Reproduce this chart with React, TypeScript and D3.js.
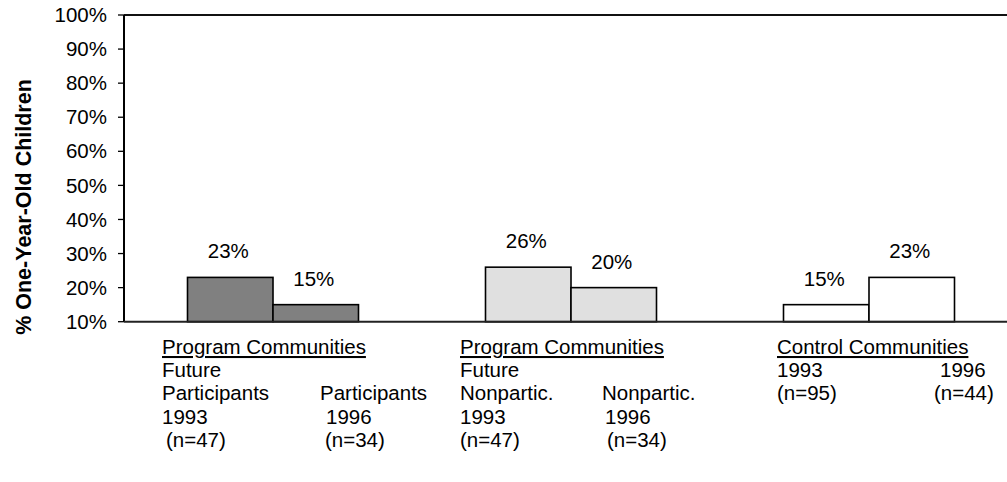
import React from "react";
import * as d3 from "d3";

// Groups along the x axis and the two bars inside each group
const groups = ["participants", "nonparticipants", "control"];
const periods = ["1993", "1996"];

// Percent of one-year-old children, per group: [1993, 1996]
const participantsValues = [23, 15];
const nonparticipantsValues = [26, 20];
const controlValues = [15, 23];
const seriesValues = [participantsValues, nonparticipantsValues, controlValues];

const groupFills = ["#808080", "#e0e0e0", "#ffffff"];

const yTicks = [10, 20, 30, 40, 50, 60, 70, 80, 90, 100];

// Category label text below each group (header, then rows of left/right columns)
const groupHeaders = ["Program Communities", "Program Communities", "Control Communities"];
const participantsRows = [
  ["Future", ""],
  ["Participants", "Participants"],
  ["1993", "1996"],
  ["(n=47)", "(n=34)"],
];
const nonparticipantsRows = [
  ["Future", ""],
  ["Nonpartic.", "Nonpartic."],
  ["1993", "1996"],
  ["(n=47)", "(n=34)"],
];
const controlRows = [
  ["1993", "1996"],
  ["(n=95)", "(n=44)"],
];
const groupRows = [participantsRows, nonparticipantsRows, controlRows];

const yTitle = "% One-Year-Old Children";

const W = 1007;
const H = 482;
const FONT = "'Liberation Sans', Arial, Helvetica, sans-serif";
const FS = 20.5;

// plot frame
const left = 124;
const top = 15;
const bottom = 321.7;
const groupStep = 298;

// horizontal offsets (from the label block's left edge) of the two columns, per row
const colOffsets = [
  [[0, 0], [0, 158], [0, 164], [4, 163]],
  [[0, 0], [0, 142], [0, 145], [0, 147]],
  [[0, 163], [0, 157]],
];
const blockLeft = [-111, -111, -92];

export default function App() {
  const x = d3
    .scaleBand<string>()
    .domain(groups)
    .range([left, left + groupStep * groups.length])
    .padding(0);
  const pairWidth = 171;
  const xSub = d3
    .scaleBand<string>()
    .domain(periods)
    .range([(x.bandwidth() - pairWidth) / 2, (x.bandwidth() + pairWidth) / 2])
    .padding(0);
  const y = d3.scaleLinear().domain([10, 100]).range([bottom, top]);

  const rowY0 = 354;
  const rowStep = 23.2;

  return (
    <svg
      width={W}
      height={H}
      style={{ position: "absolute", left: 0, top: 0, background: "#fff" }}
      fontFamily={FONT}
    >
      {/* y axis title */}
      <text
        transform={`translate(31,${(80 + 334) / 2}) rotate(-90)`}
        textAnchor="middle"
        fontSize={21.5}
        fontWeight="bold"
        fill="#000"
      >
        {yTitle}
      </text>

      {/* ticks and tick labels */}
      {yTicks.map((t) => (
        <g key={t}>
          <line x1={left - 6} x2={left} y1={y(t)} y2={y(t)} stroke="#000" strokeWidth={1.3} />
          <text x={107} y={y(t)} dy="0.35em" textAnchor="end" fontSize={FS} fill="#000">
            {d3.format(".0%")(t / 100)}
          </text>
        </g>
      ))}

      {/* bars */}
      {groups.map((g, gi) =>
        periods.map((p, pi) => {
          const v = seriesValues[gi][pi];
          const bx = (x(g) ?? 0) + (xSub(p) ?? 0);
          return (
            <g key={g + p}>
              <rect
                x={bx}
                y={y(v)}
                width={xSub.bandwidth()}
                height={bottom - y(v)}
                fill={groupFills[gi]}
                stroke="#000"
                strokeWidth={1.6}
              />
              <text
                x={bx + xSub.bandwidth() / 2 - 2}
                y={y(v) - 19}
                textAnchor="middle"
                fontSize={FS}
                fill="#000"
              >
                {`${v}%`}
              </text>
            </g>
          );
        })
      )}

      {/* plot frame: top edge, left axis, baseline */}
      <line x1={left} x2={W} y1={top} y2={top} stroke="#111" strokeWidth={2} />
      <line x1={left} x2={left} y1={top} y2={bottom} stroke="#000" strokeWidth={2} />
      <line x1={left} x2={W} y1={bottom} y2={bottom} stroke="#222" strokeWidth={2} />

      {/* category labels */}
      {groups.map((g, gi) => {
        const cx = (x(g) ?? 0) + x.bandwidth() / 2;
        const bl = cx + blockLeft[gi];
        return (
          <g key={"lab" + g} fontSize={FS} fill="#000">
            <text x={bl} y={rowY0} textDecoration="underline">
              {groupHeaders[gi]}
            </text>
            {groupRows[gi].map((row, ri) => (
              <g key={ri}>
                {row[0] && (
                  <text x={bl + colOffsets[gi][ri][0]} y={rowY0 + rowStep * (ri + 1)}>
                    {row[0]}
                  </text>
                )}
                {row[1] && (
                  <text x={bl + colOffsets[gi][ri][1]} y={rowY0 + rowStep * (ri + 1)}>
                    {row[1]}
                  </text>
                )}
              </g>
            ))}
          </g>
        );
      })}
    </svg>
  );
}
